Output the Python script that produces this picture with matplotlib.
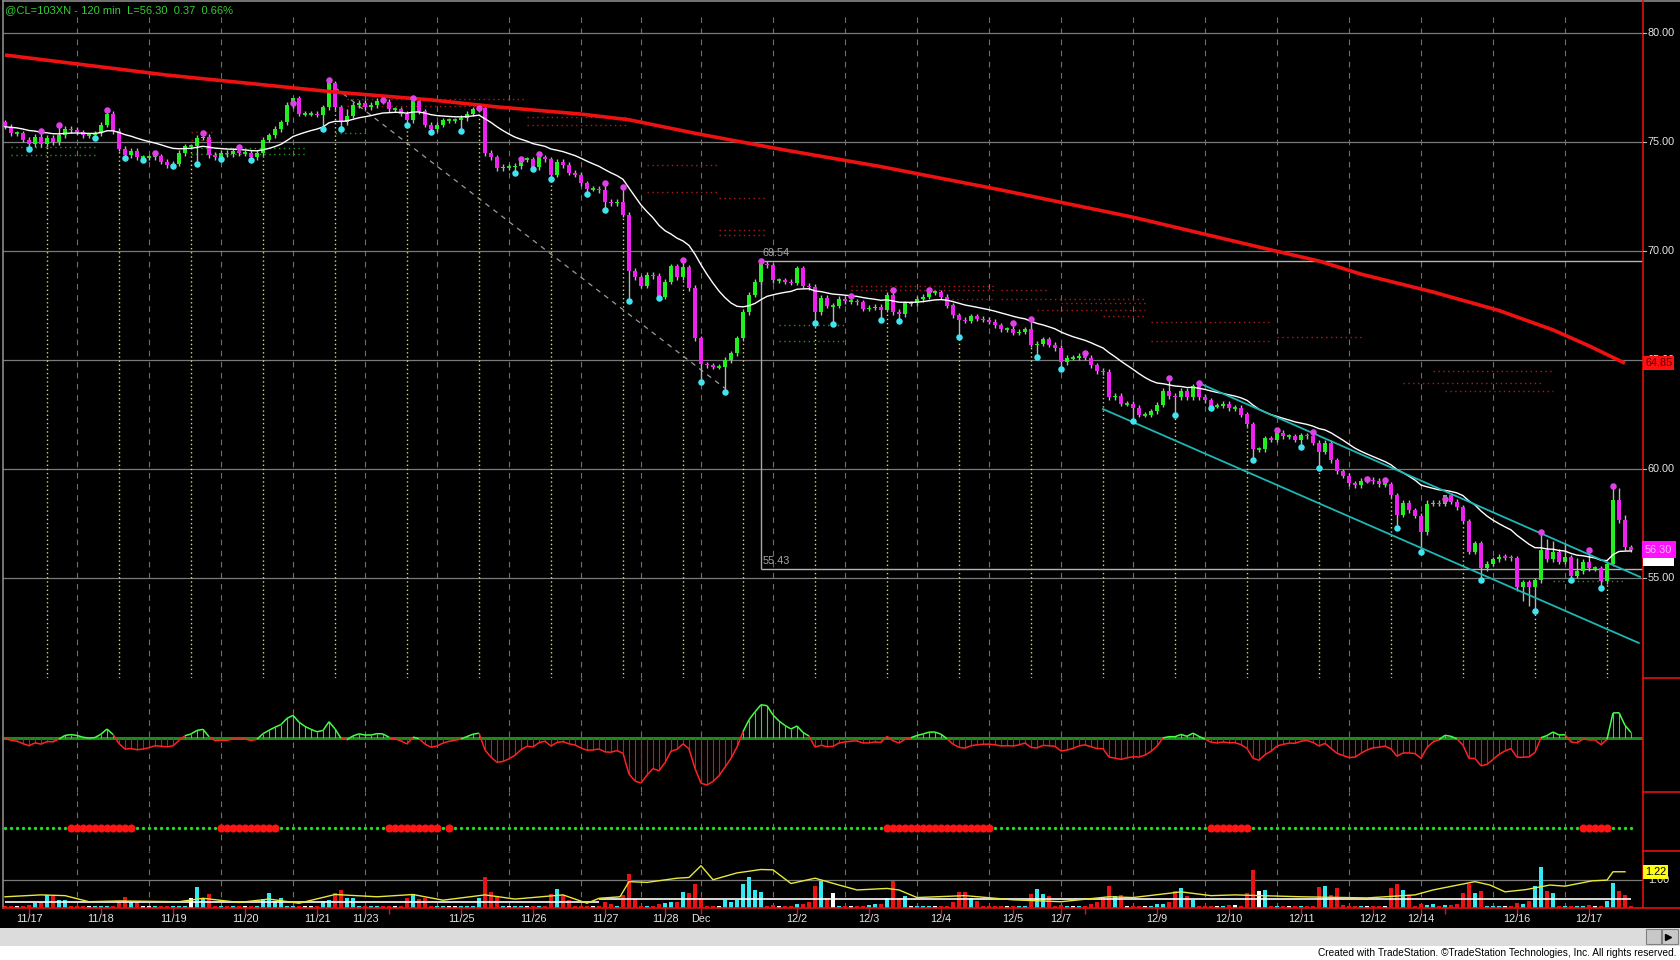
import numpy as np
import pandas as pd
import matplotlib
matplotlib.use("Agg")
import matplotlib.pyplot as plt
from matplotlib.collections import LineCollection
from matplotlib.patches import Rectangle
from matplotlib.transforms import blended_transform_factory as blend

plt.rcParams['font.family'] = ['Liberation Sans', 'DejaVu Sans']

W, H = 1680, 960

# ---- data (120 min bars, @CL) ----
first_open = 75.9
closes = [
    75.7, 75.4, 75.4, 75.1, 74.9, 75.25, 74.9, 75.2, 75.0, 75.3,
    75.6, 75.55, 75.45, 75.3, 75.3, 75.4, 75.8, 76.3, 75.5, 74.7,
    74.4, 74.6, 74.3, 74.3, 74.3, 74.35, 74.1, 73.95, 74.0, 74.5,
    74.8, 74.8, 75.2, 75.25, 74.4, 74.3, 74.5, 74.45, 74.6, 74.5,
    74.5, 74.3, 74.5, 75.1, 75.3, 75.6, 75.9, 76.7, 77.0, 76.3,
    76.3, 76.3, 76.25, 76.6, 77.7, 76.6, 75.9, 76.2, 76.7, 76.8,
    76.6, 76.7, 76.9, 76.85, 76.5, 76.5, 76.3, 76.0, 76.9, 76.4,
    75.8, 75.6, 75.8, 76.0, 76.0, 76.0, 76.1, 76.3, 76.5, 76.55,
    74.5, 74.3, 73.8, 73.85, 73.85, 73.9, 74.2, 74.2, 73.85, 74.3,
    74.2, 73.5, 74.1, 73.95, 73.6, 73.5, 73.1, 72.85, 72.85, 72.8,
    72.27, 72.2, 72.25, 71.67, 69.1, 68.8, 68.4, 68.9, 68.85, 67.9,
    68.6, 69.3, 68.8, 69.25, 68.3, 66.0, 64.8, 64.75, 64.7, 64.7,
    65.0, 65.3, 66.0, 67.2, 68.0, 68.6, 69.4, 69.35, 68.65, 68.65,
    68.6, 68.55, 69.2, 68.4, 68.35, 67.2, 67.85, 67.5, 67.5, 67.8,
    67.7, 67.7, 67.65, 67.35, 67.4, 67.45, 67.3, 68.0, 67.2, 67.1,
    67.6, 67.6, 67.8, 67.9, 68.1, 68.1, 67.9, 67.5, 67.05, 66.85,
    66.8, 67.0, 66.9, 66.85, 66.75, 66.6, 66.4, 66.4, 66.25, 66.3,
    66.4, 65.7, 65.75, 65.95, 65.7, 65.55, 64.9, 65.1, 65.1, 65.2,
    65.1, 64.75, 64.5, 64.45, 63.3, 63.35, 63.0, 63.0, 62.8, 62.5,
    62.5, 62.65, 62.95, 63.6, 63.35, 63.3, 63.6, 63.3, 63.8, 63.3,
    63.15, 62.9, 62.9, 63.0, 62.8, 62.8, 62.5, 62.05, 60.9, 60.9,
    61.4, 61.35, 61.65, 61.5, 61.5, 61.35, 61.55, 61.5, 61.2, 60.8,
    61.2, 60.4, 59.9, 59.7, 59.35, 59.25, 59.47, 59.5, 59.45, 59.3,
    59.3, 58.8, 57.9, 58.45, 58.1, 57.85, 57.1, 58.4, 58.45, 58.4,
    58.8, 58.5, 58.25, 57.6, 56.2, 56.6, 55.45, 55.65, 55.85, 55.97,
    55.95, 55.9, 54.6, 54.8, 54.6, 54.9, 56.3, 55.85, 56.2, 55.75,
    55.95, 55.1, 55.3, 55.75, 55.45, 55.45, 54.85, 55.65, 58.6, 57.65,
    56.4, 56.30,
]

# swing markers (bar, price): magenta above highs, cyan below lows
swing_highs = [(6, 75.5), (9, 75.77), (17, 76.47), (25, 74.5), (33, 75.4), (39, 74.77),
               (48, 76.8), (54, 77.85), (63, 76.93), (68, 77.0), (79, 76.55), (86, 74.22),
               (89, 74.45), (100, 73.1), (103, 72.92), (113, 69.59), (126, 69.54),
               (141, 67.95), (148, 68.2), (154, 68.2), (168, 66.71), (171, 66.88),
               (180, 65.3), (194, 64.16), (199, 63.93), (212, 61.8), (218, 61.7),
               (227, 59.55), (230, 59.5), (240, 58.64), (256, 57.1), (264, 56.28), (268, 59.22)]
swing_lows = [(4, 74.68), (15, 75.2), (20, 74.25), (23, 74.17), (28, 73.9), (32, 74.0),
              (36, 74.2), (41, 74.17), (53, 75.6), (56, 75.6), (67, 75.8), (71, 75.45),
              (76, 75.5), (85, 73.6), (88, 73.76), (91, 73.3), (97, 72.6), (100, 71.9),
              (104, 67.7), (109, 67.83), (116, 63.98), (120, 63.55), (135, 66.68),
              (138, 66.64), (146, 66.82), (149, 66.77), (159, 66.04), (172, 65.13),
              (176, 64.6), (188, 62.2), (195, 62.5), (201, 62.78), (208, 60.41),
              (216, 61.0), (219, 60.04), (232, 57.28), (236, 56.2), (246, 54.93),
              (255, 53.5), (261, 54.9), (266, 54.52)]
upper_wicks = {55: 77.3, 57: 76.5, 237: 58.6, 257: 56.8, 258: 56.7, 260: 56.6,
               262: 55.9, 269: 59.15, 270: 57.9}
lower_wicks = {236: 56.5, 245: 56.1, 253: 53.95, 254: 53.7, 252: 54.4}

session_bars = [7, 19, 31, 43, 55, 67, 79, 91, 103, 113, 123, 135, 147, 159, 171,
                183, 195, 207, 219, 231, 243, 255, 267]
grid_bars = [12, 24, 36, 48, 60, 72, 84, 96, 106, 116, 128, 140, 152, 164, 176,
             188, 200, 212, 224, 236, 248, 260]
date_bars = [4, 16, 28, 40, 52, 60, 76, 88, 100, 110, 116, 132, 144, 156, 168, 176,
             192, 204, 216, 228, 236, 252, 264]
date_labels = ["11/17", "11/18", "11/19", "11/20", "11/21", "11/23", "11/25", "11/26",
               "11/27", "11/28", "Dec", "12/2", "12/3", "12/4", "12/5", "12/7", "12/9",
               "12/10", "12/11", "12/12", "12/14", "12/16", "12/17"]
blank_ticks = [64, 180, 240]
price_ticks = [80, 75, 70, 65, 60, 55]

# long moving average (red), read at a few bars
red_ma = [(0, 78.99), (27, 78.07), (55, 77.29), (71, 76.93), (82, 76.61), (96, 76.28),
          (104, 76.02), (115, 75.40), (130, 74.63), (146, 73.87), (166, 72.80),
          (188, 71.55), (211, 70.05), (219, 69.54), (226, 68.94), (238, 68.12),
          (249, 67.27), (258, 66.38), (264, 65.65), (270, 64.85)]

channel_upper = [(199, 63.94), (272.5, 55.05)]
channel_lower = [(183, 62.75), (272.3, 52.02)]
swing_line = [(55, 77.5), (120, 63.7)]
range_bar, range_high, range_low = 126, 69.54, 55.43

# dotted support / resistance stubs: (start bar, end bar, price, kind)
levels = [(1, 15, 74.77, 'g'), (1, 15, 74.40, 'g'), (31, 50, 74.72, 'g'), (31, 50, 74.45, 'g'),
          (31, 35, 75.46, 'r'), (31, 35, 75.10, 'r'), (55, 60, 75.40, 'g'),
          (57, 87, 76.97, 'r'), (57, 82, 76.65, 'r'), (87, 104, 76.15, 'r'), (87, 104, 75.76, 'r'),
          (107, 119, 73.94, 'r'), (107, 119, 72.70, 'r'), (119, 127, 72.43, 'r'),
          (119, 127, 70.96, 'r'), (119, 127, 70.73, 'r'),
          (129, 140, 66.60, 'g'), (129, 140, 65.87, 'g'),
          (141, 165, 68.40, 'r'), (141, 165, 68.20, 'r'), (157, 165, 67.80, 'r'),
          (166, 174, 68.20, 'r'), (166, 190, 67.80, 'r'), (176, 190, 67.60, 'r'),
          (172, 190, 67.30, 'r'), (183, 190, 67.00, 'r'),
          (191, 211, 66.74, 'r'), (191, 211, 65.87, 'r'), (212, 226, 66.05, 'r'),
          (238, 258, 64.50, 'r'), (233, 256, 63.95, 'r'), (240, 258, 63.60, 'r'),
          (258, 270, 54.88, 'g')]

red_dot_runs = [(11, 21), (36, 45), (64, 72), (74, 74), (147, 164), (201, 207), (263, 267)]

volume = {4: 0.34, 5: 0.40, 6: 0.43, 7: 0.61, 8: 0.58, 9: 0.47, 10: 0.47, 19: 0.42,
          20: 0.56, 21: 0.42, 22: 0.42, 31: 0.54, 32: 0.83, 33: 0.54, 34: 0.63, 43: 0.51,
          44: 0.65, 45: 0.45, 46: 0.54, 53: 0.45, 54: 0.47, 55: 0.67, 56: 0.74, 57: 0.52,
          58: 0.52, 67: 0.54, 68: 0.63, 69: 0.50, 70: 0.52, 79: 0.52, 80: 1.09, 81: 0.69,
          82: 0.58, 91: 0.63, 92: 0.77, 93: 0.60, 94: 0.48, 100: 0.41, 101: 0.38, 103: 0.61,
          104: 1.16, 105: 0.50, 109: 0.38, 110: 0.40, 111: 0.43, 112: 0.43, 113: 0.68,
          114: 0.66, 115: 0.91, 116: 0.52, 120: 0.47, 121: 0.43, 122: 0.47, 123: 0.91,
          124: 1.07, 125: 0.74, 126: 0.68, 128: 0.35, 132: 0.37, 133: 0.37, 134: 0.43,
          135: 0.84, 136: 0.98, 137: 0.52, 138: 0.65, 144: 0.35, 145: 0.37, 146: 0.37,
          147: 0.54, 148: 0.98, 149: 0.52, 150: 0.57, 158: 0.43, 159: 0.68, 160: 0.68,
          161: 0.54, 162: 0.45, 171: 0.63, 172: 0.77, 173: 0.63, 174: 0.57, 176: 0.35,
          181: 0.37, 182: 0.43, 183: 0.54, 184: 0.84, 185: 0.57, 186: 0.61, 192: 0.37,
          193: 0.37, 194: 0.43, 195: 0.72, 196: 0.80, 197: 0.57, 198: 0.48, 204: 0.34,
          205: 0.34, 207: 0.66, 208: 1.27, 209: 0.72, 210: 0.74, 219: 0.83, 220: 0.84,
          221: 0.60, 222: 0.79, 223: 0.35, 231: 0.79, 232: 0.90, 233: 0.74, 234: 0.61,
          236: 0.37, 237: 0.35, 238: 0.37, 240: 0.35, 241: 0.35, 242: 0.37, 243: 0.65,
          244: 0.90, 245: 0.65, 246: 0.72, 252: 0.39, 253: 0.37, 254: 0.44, 255: 0.85,
          256: 1.35, 257: 0.72, 258: 0.65, 264: 0.34, 267: 0.46, 268: 0.93, 269: 0.72,
          270: 0.61}
vol_floor = 0.31
vol_ratio = [(0, 0.56), (6, 0.61), (10, 0.59), (14, 0.43), (19, 0.45), (29, 0.43),
             (33, 0.52), (39, 0.41), (44, 0.50), (49, 0.39), (55, 0.62), (62, 0.56),
             (68, 0.62), (73, 0.47), (80, 0.61), (85, 0.50), (93, 0.61), (97, 0.39),
             (99, 0.52), (102.5, 0.56), (104, 0.96), (107, 0.94), (112, 1.05), (114, 1.07),
             (116, 1.38), (118, 1.01), (122, 1.19), (126, 1.28), (128, 1.27), (131, 0.91),
             (135, 1.05), (139, 0.87), (142, 0.74), (147, 0.78), (149, 0.74), (152, 0.54),
             (160, 0.59), (168, 0.48), (176, 0.43), (184, 0.56), (188, 0.54), (196, 0.69),
             (201, 0.59), (205, 0.61), (216, 0.56), (227, 0.53), (235, 0.61), (238, 0.74),
             (245, 0.96), (247.5, 0.87), (250, 0.69), (253.5, 0.75), (257.5, 0.87),
             (260, 0.84), (264.5, 0.98), (267, 1.0), (268, 1.22), (270, 1.22)]
vol_avg = [(0, 99, 0.42), (99, 271, 0.50)]

# ---- derived series ----
c = np.array(closes)
o = np.array([first_open] + closes[:-1])
n = len(c)
x = np.arange(n)
hi = np.maximum(o, c) + 0.12
lo = np.minimum(o, c) - 0.12
for i, p in swing_highs:
    hi[i] = p
for i, p in swing_lows:
    lo[i] = p
for i, p in upper_wicks.items():
    hi[i] = max(hi[i], p)
for i, p in lower_wicks.items():
    lo[i] = min(lo[i], p)

s = pd.Series(c)
white_ma = s.ewm(span=20, adjust=False).mean().values
osc = (s.ewm(span=3, adjust=False).mean() - s.ewm(span=9, adjust=False).mean()).values

GREEN, MAG = '#22ee22', '#ee22ee'
GRID = '#6e6e6e'

fig = plt.figure(figsize=(W / 100, H / 100), dpi=100, facecolor='black')


def px_axes(x0, y0, x1, y1):
    ax = fig.add_axes([x0 / W, 1 - y1 / H, (x1 - x0) / W, (y1 - y0) / H])
    ax.set_axis_off()
    ax.set_xlim((x0 - 5) / 6, (x1 - 5) / 6)
    return ax


XL, XR = 3, 1643
ax_p = px_axes(XL, 0, XR, 678)
ax_o = px_axes(XL, 678, XR, 792)
ax_d = px_axes(XL, 792, XR, 851)
ax_v = px_axes(XL, 851, XR, 908)
p_lo, p_hi = 80 - 645 / 21.8, 80 + 33 / 21.8
ax_p.set_ylim(p_lo, p_hi)
ax_o.set_ylim(-54, 60)
ax_d.set_ylim(0, 59)
ax_v.set_ylim(0.264, 1.768)

# vertical dashed grid through all panels
ax_p.vlines(grid_bars, p_lo, 80 + 16 / 21.8, colors=GRID, lw=0.8, linestyles=(0, (5, 5)), zorder=1)
for ax in (ax_o, ax_d, ax_v):
    lo_, hi_ = ax.get_ylim()
    ax.vlines(grid_bars, lo_, hi_, colors=GRID, lw=0.8, linestyles=(0, (5, 5)), zorder=1)

# ---- price panel ----
for p in price_ticks:
    ax_p.axhline(p, color='#7a7a7a', lw=0.9, zorder=1)

for a, b, p, k in levels:
    ax_p.hlines(p, a, b, colors='#b01c1c' if k == 'r' else '#1f9a1f', lw=1,
                linestyles=(0, (1, 2.5)), zorder=2)

ax_p.vlines(session_bars, p_lo, lo[session_bars], colors='#e6dc55', lw=1,
            linestyles=(0, (1, 2)), zorder=2)

ax_p.plot(*zip(*swing_line), color='#9a9a9a', lw=0.9, ls=(0, (4, 4)), zorder=2)
ax_p.vlines(range_bar, range_low, range_high, colors='#a8a8a8', lw=1, zorder=2)
ax_p.hlines([range_high, range_low], range_bar, (XR - 5) / 6, colors='#b4b4b4', lw=1, zorder=2)
ax_p.text(range_bar + 0.2, range_high + 0.12, f"{range_high:.2f}", color='#a8a8a8',
          fontsize=7.8, va='bottom', ha='left', zorder=6)
ax_p.text(range_bar + 0.2, range_low + 0.12, f"{range_low:.2f}", color='#a8a8a8',
          fontsize=7.8, va='bottom', ha='left', zorder=6)

ax_p.vlines(x, lo, hi, colors='#b4b4b4', lw=1, zorder=3)
up = c > o + 0.03
dn = c < o - 0.03
fl = ~(up | dn)
ax_p.bar(x[up], (c - o)[up], bottom=o[up], width=0.72, color=GREEN, lw=0, zorder=4)
ax_p.bar(x[dn], (o - c)[dn], bottom=c[dn], width=0.72, color=MAG, lw=0, zorder=4)
ax_p.hlines(c[fl], x[fl] - 0.4, x[fl] + 0.4, colors=np.where(c[fl] >= o[fl], GREEN, MAG),
            lw=1.3, zorder=4)

ax_p.plot(x, white_ma, color='white', lw=1, zorder=5)
ax_p.plot(*zip(*red_ma), color='#ee1111', lw=2.6, zorder=5, solid_capstyle='butt',
          solid_joinstyle='round')
ax_p.plot(*zip(*channel_upper), color='#1fb6b6', lw=1.3, zorder=5)
ax_p.plot(*zip(*channel_lower), color='#1fb6b6', lw=1.3, zorder=5)

ax_p.scatter(*zip(*swing_highs), s=22, color='#e040e8', zorder=6, lw=0)
ax_p.scatter(*zip(*swing_lows), s=22, color='#40e4ee', zorder=6, lw=0)

# ---- oscillator ----
osc_px = osc / np.abs(osc).max() * 47
ax_o.axhline(0, color='#1c8c1c', lw=2.2, zorder=2)
ax_o.vlines(x, 0, osc_px, colors=np.where(osc_px >= 0, '#30d830', '#d01414'), lw=0.8, zorder=3)
segs = np.stack([np.column_stack([x[:-1], osc_px[:-1]]), np.column_stack([x[1:], osc_px[1:]])], axis=1)
mid = (osc_px[:-1] + osc_px[1:]) / 2
ax_o.add_collection(LineCollection(segs, colors=np.where(mid >= 0, '#44ff44', '#ff2222'),
                                   lw=1.1, zorder=4))

# ---- state dots ----
red_mask = np.zeros(n, bool)
for a, b in red_dot_runs:
    red_mask[a:b + 1] = True
ax_d.scatter(x[~red_mask], np.full((~red_mask).sum(), 23), s=6, color='#22dd22', lw=0)
ax_d.scatter(x[red_mask], np.full(red_mask.sum(), 23), s=34, color='#ff1414', lw=0)

# ---- volume ----
vol = np.array([volume.get(i, vol_floor) for i in range(n)])
vcol = np.where(up, '#33e8f0', np.where(dn, '#e81414', 'white'))
ax_v.axhline(1.0, color='#7a7a7a', lw=0.9, zorder=1)
ax_v.bar(x, vol, width=0.55, color=vcol, lw=0, zorder=3)
for a, b, v in vol_avg:
    ax_v.hlines(v, a, b, colors='white', lw=1.2, zorder=4)
ax_v.plot(*zip(*vol_ratio), color='#e8e83a', lw=1, zorder=5)

# ---- frame, axes, labels ----
ov = fig.add_axes([0, 0, 1, 1], zorder=10)
ov.set_axis_off()
ov.set_xlim(0, W)
ov.set_ylim(H, 0)
ov.plot([XL, W], [1, 1], color='#8a8a8a', lw=1.2)
ov.plot([XL, XL], [0, 908], color='#8a8a8a', lw=1.2)
ov.plot([XR, XR], [0, 908], color='#e01010', lw=1.2)
ov.plot([XL, W], [908, 908], color='#e01010', lw=1.2)
for yb in (678, 792, 851):
    ov.plot([XR, W], [yb, yb], color='#e01010', lw=1.2)

ov.text(5, 10, "@CL=103XN - 120 min  L=56.30  0.37  0.66%", color='#33cc33',
        fontsize=8, va='center', ha='left')

tp = blend(ov.transData, ax_p.transData)
for p in price_ticks:
    ov.text(1648, p, f"{p:.2f}", transform=tp, color='#e6e6e6', fontsize=7.8, va='center', ha='left')
    ov.plot([XR, XR + 3], [p, p], transform=tp, color='#bbbbbb', lw=0.8)
ov.text(1645, red_ma[-1][1], f"{red_ma[-1][1]:.2f}", transform=tp, color='#5a0000', fontsize=7.8,
        va='center', ha='left', bbox=dict(boxstyle='square,pad=0.18', fc='#ff1010', ec='none'))
ov.text(1645, white_ma[-1] - 0.35, f"{white_ma[-1]:.2f}", transform=tp, color='white', fontsize=7.8,
        va='center', ha='left', bbox=dict(boxstyle='square,pad=0.18', fc='white', ec='none'))
ov.text(1645, c[-1], f"{c[-1]:.2f}", transform=tp, color='#ffb8ff', fontsize=7.8,
        va='center', ha='left', bbox=dict(boxstyle='square,pad=0.3', fc='#ff10ff', ec='none'))

tv = blend(ov.transData, ax_v.transData)
ov.text(1648, 1.0, "1.00", transform=tv, color='#e6e6e6', fontsize=7.8, va='center', ha='left')
ov.text(1645, vol_ratio[-1][1], f"{vol_ratio[-1][1]:.2f}", transform=tv, color='black', fontsize=7.8,
        va='center', ha='left', bbox=dict(boxstyle='square,pad=0.2', fc='#ffff10', ec='none'))

td = blend(ax_v.transData, ov.transData)
ov.vlines(date_bars + blank_ticks, 908, 914, transform=td, colors='#e01010', lw=1)
for b, lab in zip(date_bars, date_labels):
    ov.text(b, 919, lab, transform=td, color='#e6e6e6', fontsize=7.8, ha='center', va='center')

# scroll bar and footer
ov.add_patch(Rectangle((0, 928), W, 18, fc='#dcdcdc', ec='none', hatch='....', lw=0))
ov.add_patch(Rectangle((1646, 929), 15, 15, fc='#c8c8c8', ec='#808080', lw=0.8))
ov.add_patch(Rectangle((1662, 929), 16, 15, fc='#c8c8c8', ec='#808080', lw=0.8))
ov.plot([1668], [936.5], marker='>', color='black', ms=5)
ov.add_patch(Rectangle((0, 946), W, 14, fc='white', ec='none'))
ov.text(1677, 953, "Created with TradeStation. \u00a9TradeStation Technologies, Inc. All rights reserved.",
        color='black', fontsize=7.3, ha='right', va='center')

fig.savefig("out.png", dpi=100, facecolor='black')
